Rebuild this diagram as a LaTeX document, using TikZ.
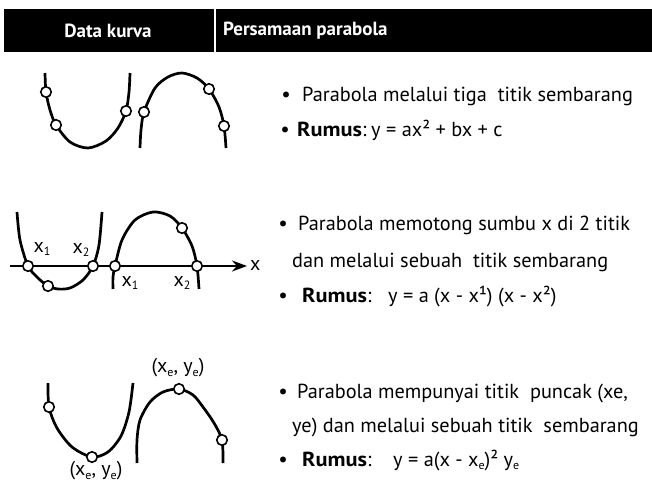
\documentclass[tikz,border=0pt]{standalone}
\usepackage{fontspec}
\setmainfont{PT Sans}
\usetikzlibrary{arrows.meta}
\newcommand{\lowidx}[1]{\raisebox{-3.5pt}{\fontsize{12}{12}\selectfont #1}}
\newcommand{\rumus}{\scalebox{1.1}[1]{\textbf{Rumus}}:}
\tikzset{%
  hdr/.style   = {font=\bfseries\fontsize{19}{22}\selectfont, text=white, inner sep=0pt},%
  txt/.style   = {font=\fontsize{20.3}{24}\selectfont, anchor=base west, inner sep=0pt},%
  bul/.style   = {font=\fontsize{21}{24}\selectfont, anchor=base, inner sep=0pt},%
  lbl/.style   = {font=\fontsize{20}{22}\selectfont, inner sep=0pt},%
  curve/.style = {line width=2.7pt},%
  hole/.style  = {circle, draw, fill=white, line width=1.6pt, inner sep=0pt, minimum size=10.5pt},%
  axis/.style  = {line width=2.2pt, -{Stealth[length=15pt,width=11pt]}}%
}
\begin{document}
\begin{tikzpicture}[x=1pt,y=-1pt]
  \useasboundingbox (0,0) rectangle (652,485);
  % header
  \fill (4,9) rectangle (652,52);
  \draw[white, line width=2.4pt] (215,9) -- (215,52);
  \node[hdr] (h1) at (108,31) {Data kurva};
  \node[hdr, anchor=west] (h2) at (223,31) {Persamaan parabola};

  % row 1: three points
  \coordinate (u2) at (46,92); \coordinate (u3) at (56,125); \coordinate (u5) at (126,111);
  \draw[curve] plot[smooth, tension=0.5] coordinates {(45,73) (u2) (50,110) (u3) (70,142)
    (88,148) (106,141) (118,128) (u5) (129,92) (130,73)};
  \coordinate (n2) at (144,112); \coordinate (n4) at (209,89); \coordinate (n5) at (224,126);
  \draw[curve] plot[smooth, tension=0.5] coordinates {(140,148) (141,130) (n2) (155,88)
    (168,77) (182,73) (197,78) (n4) (219,107) (n5) (226,148)};
  \foreach \p in {u2,u3,u5,n2,n4,n5} \node[hole] (c\p) at (\p) {};

  \node[bul] (b11) at (286,101) {\textbullet};
  \node[txt] (t11) at (302,101) {Parabola melalui tiga\ \ titik sembarang};
  \node[bul] (b12) at (285,136) {\textbullet};
  \node[txt] (t12) at (297,136) {\rumus};
  \node[txt] (f12) at (371,136) {y = ax² + bx + c};

  % row 2: two roots and one point
  \coordinate (ax0) at (10,266); \coordinate (ax1) at (247,266);
  \draw[axis] (ax0) -- (ax1);
  \node[lbl, anchor=west] (lx) at (250,265) {x};
  \coordinate (v2) at (28,266); \coordinate (v3) at (48,286); \coordinate (v5) at (93,266);
  \draw[curve] plot[smooth, tension=0.5] coordinates {(17,212) (20,240) (v2) (38,278)
    (v3) (58,289) (70,288) (83,280) (v5) (99,245) (102,212)};
  \coordinate (m2) at (115,266); \coordinate (m4) at (182,228); \coordinate (m5) at (197,266);
  \draw[curve] plot[smooth, tension=0.5] coordinates {(113,289) (113,277) (m2) (122,240)
    (135,220) (153,212) (170,216) (m4) (192,246) (m5) (199,289)};
  \foreach \p in {v2,v3,v5,m2,m4,m5} \node[hole] (c\p) at (\p) {};
  \node[lbl] (lv2) at (42,249) {x\lowidx{1}};
  \node[lbl] (lv5) at (81,250) {x\lowidx{2}};
  \node[lbl] (lm2) at (130,283) {x\lowidx{1}};
  \node[lbl] (lm5) at (182,283) {x\lowidx{2}};

  \node[bul] (b21) at (283,230) {\textbullet};
  \node[txt] (t21) at (298,230) {Parabola memotong sumbu x di 2 titik};
  \node[txt] (t22) at (292,267) {dan melalui sebuah\ \ titik sembarang};
  \node[bul] (b23) at (283,302) {\textbullet};
  \node[txt] (t23) at (302,302) {\rumus};
  \node[txt] (f23) at (388,302) {y = a (x - x¹) (x - x²)};

  % row 3: vertex and one point
  \coordinate (w2) at (49,407); \coordinate (w3) at (92,457);
  \draw[curve] plot[smooth, tension=0.5] coordinates {(48,383) (w2) (57,428) (72,447)
    (w3) (108,452) (121,436) (129,412) (133,383)};
  \coordinate (k3) at (179,389); \coordinate (k5) at (222,440);
  \draw[curve] plot[smooth, tension=0.5] coordinates {(137,463) (137,440) (140,420)
    (150,402) (163,392) (k3) (193,395) (203,407) (214,423) (k5) (223,463)};
  \foreach \p in {w2,w3,k3,k5} \node[hole] (c\p) at (\p) {};
  \node[lbl] (lw3) at (96,471) {(x\lowidx{e}, y\lowidx{e})};
  \node[lbl] (lk3) at (178,368) {(x\lowidx{e}, y\lowidx{e})};

  \node[bul] (b31) at (283,398) {\textbullet};
  \node[txt] (t31) at (297,398) {Parabola mempunyai titik\ \ puncak (xe,};
  \node[txt] (t32) at (292,432) {ye) dan melalui sebuah titik\ \ sembarang};
  \node[bul] (b33) at (283,466) {\textbullet};
  \node[txt] (t33) at (302,466) {\rumus};
  \node[txt] (f33) at (393,466) {y = a(x - x\lowidx{e})² y\lowidx{e}};
\end{tikzpicture}
\end{document}
